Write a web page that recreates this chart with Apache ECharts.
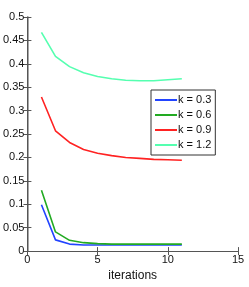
<!DOCTYPE html>
<html><head><meta charset="utf-8">
<script src="https://cdn.jsdelivr.net/npm/echarts@6/dist/echarts.min.js"></script>
<style>html,body{margin:0;padding:0;background:#fff}#c{width:249px;height:287px}</style>
</head><body><div id="c"></div>
<script>
const iterations = [1,2,3,4,5,6,7,8,9,10,11];
const k03 = [0.099,0.024,0.015,0.013,0.013,0.013,0.013,0.013,0.013,0.013,0.013];
const k06 = [0.130,0.041,0.023,0.018,0.016,0.015,0.015,0.015,0.015,0.015,0.015];
const k09 = [0.329,0.257,0.232,0.217,0.209,0.204,0.200,0.198,0.196,0.195,0.194];
const k12 = [0.467,0.416,0.394,0.381,0.373,0.368,0.365,0.364,0.364,0.366,0.368];
const names = ['k = 0.3','k = 0.6','k = 0.9','k = 1.2'];
const colors = ['#2244ff','#22aa22','#ff2222','#55ffb0'];
const all = [k03,k06,k09,k12];
const font = 'Liberation Sans, Arial, sans-serif';
const chart = echarts.init(document.getElementById('c'));
const axisCol = '#555';
chart.setOption({
  animation:false,
  grid:{left:26,right:11,top:17,bottom:26},
  legend:{orient:'vertical',left:151,top:90,padding:[4,4,4,4],itemGap:3,itemWidth:22,itemHeight:2,icon:'rect',
    borderColor:'#333',borderWidth:1,backgroundColor:'#fff',
    textStyle:{fontFamily:font,fontSize:11,color:'#111',padding:[0,0,0,-4],lineHeight:12},data:names},
  xAxis:[{type:'value',min:0,max:15,interval:5,position:'bottom',
    axisLine:{lineStyle:{color:axisCol,width:1}},axisTick:{inside:true,length:4,lineStyle:{color:axisCol}},
    splitLine:{show:false},axisLabel:{fontFamily:font,fontSize:11,color:'#111',margin:3},
    name:'iterations',nameLocation:'middle',nameGap:15,nameTextStyle:{fontFamily:font,fontSize:12,color:'#111'}},
    {type:'value',min:0,max:15,interval:5,position:'top',
    axisLine:{lineStyle:{color:axisCol,width:1}},axisTick:{inside:true,length:4,lineStyle:{color:axisCol}},
    splitLine:{show:false},axisLabel:{show:false}}],
  yAxis:[{type:'value',min:0,max:0.5,interval:0.05,position:'left',
    axisLine:{show:true,lineStyle:{color:'#888',width:1.5}},axisTick:{show:true,inside:true,length:4,lineStyle:{color:axisCol}},
    splitLine:{show:false},axisLabel:{fontFamily:font,fontSize:11,color:'#111',margin:3}},
    {type:'value',min:0,max:0.5,interval:0.05,position:'right',
    axisLine:{show:true,lineStyle:{color:axisCol,width:1}},axisTick:{show:true,inside:true,length:4,lineStyle:{color:axisCol}},
    splitLine:{show:false},axisLabel:{show:false}}],
  series: all.map((d,i)=>({name:names[i],type:'line',symbol:'none',
    data:iterations.map((x,j)=>[x,d[j]]),lineStyle:{color:colors[i],width:1.6},itemStyle:{color:colors[i]}}))
});
</script></body></html>
